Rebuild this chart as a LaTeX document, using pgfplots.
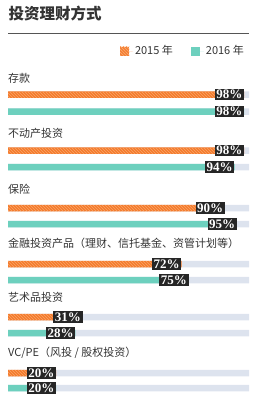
\documentclass[border=0pt]{standalone}
\usepackage{fontspec}
\setmainfont{Noto Sans CJK SC}
\newfontfamily\numfont{Liberation Serif}
\usepackage{pgfplots}
\pgfplotsset{compat=1.18}
\usetikzlibrary{patterns}
\definecolor{cOrange}{HTML}{F47B2C}
\definecolor{cStripe}{HTML}{F9A468}
\definecolor{cTeal}{HTML}{6DD0BE}
\definecolor{cBg}{HTML}{DDE3EE}
\definecolor{cBox}{HTML}{262626}
\definecolor{cText}{HTML}{333333}
\definecolor{cRule}{HTML}{555555}
\begin{document}
\begin{tikzpicture}
\begin{axis}[
  scale only axis, width=260pt, height=400pt,
  xmin=-3.32, xmax=104.56, ymin=0, ymax=400, y dir=reverse,
  hide axis, clip=false,
  legend style={at={(axis description cs:0.9577,0.8725)}, anchor=east, draw=none, fill=none,
    font=\fontsize{11}{13}\selectfont, text=cText, legend columns=2,
    /tikz/every even column/.append style={column sep=16pt}},
  legend cell align=left,
]
\path (axis cs:-3.32,0) rectangle (axis cs:104.56,400);
% background bars
\addplot[xbar, bar width=6.5pt, bar shift=0pt, fill=cBg, draw=none, forget plot]
  coordinates {(100,94.5) (100,150.5) (100,208) (100,264) (100,317) (100,373)
               (100,111.5) (100,167) (100,224) (100,280) (100,333) (100,388)};
% 2015
\addplot[xbar, bar width=6.5pt, bar shift=0pt, fill=cOrange, draw=none,
  postaction={pattern=north west lines, pattern color=cStripe},
  legend image code/.code={\fill[cOrange] (0pt,-4.5pt) rectangle (9pt,4.5pt);
     \fill[pattern=north west lines, pattern color=cStripe] (0pt,-4.5pt) rectangle (9pt,4.5pt);
     \path (0pt,0pt) -- (13pt,0pt);},
  nodes near coords={\pgfmathprintnumber[assume math mode=true]{\pgfplotspointmeta}\%},
  point meta=explicit,
  every node near coord/.append style={anchor=east, fill=cBox, text=white,
    font=\numfont\bfseries\fontsize{13}{13}\selectfont, inner xsep=1.6pt, inner ysep=1.1pt}]
  coordinates {(98,94.5) [98] (98,150.5) [98] (90,208) [90] (72,264) [72] (31,317) [31] (20,373) [20]};
\addlegendentry{2015 年}
% 2016
\addplot[xbar, bar width=6.5pt, bar shift=0pt, fill=cTeal, draw=none,
  legend image code/.code={\fill[cTeal] (0pt,-4.5pt) rectangle (9pt,4.5pt);
     \path (0pt,0pt) -- (13pt,0pt);},
  nodes near coords={\pgfmathprintnumber[assume math mode=true]{\pgfplotspointmeta}\%},
  point meta=explicit,
  every node near coord/.append style={anchor=east, fill=cBox, text=white,
    font=\numfont\bfseries\fontsize{13}{13}\selectfont, inner xsep=1.6pt, inner ysep=1.1pt}]
  coordinates {(98,111.5) [98] (94,167) [94] (95,224) [95] (75,280) [75] (28,333) [28] (20,388) [20]};
\addlegendentry{2016 年}
% title and rule
\node[anchor=west, inner sep=0pt, font=\bfseries\fontsize{15.5}{16}\selectfont, text=cText] at (axis cs:0.2,14) {投资理财方式};
\draw[cRule, line width=0.9pt] (axis cs:0,33.5) -- (axis cs:100,33.5);
% category labels
\begin{scope}[every node/.style={anchor=west, inner sep=0pt, font=\fontsize{11}{13}\selectfont, text=cText}]
\node at (axis cs:0,78) {存款};
\node at (axis cs:0,133) {不动产投资};
\node at (axis cs:0,189) {保险};
\node at (axis cs:0,243) {金融投资产品（理财、信托基金、资管计划等）};
\node at (axis cs:0,297) {艺术品投资};
\node at (axis cs:0,353) {VC/PE（风投 / 股权投资）};
\end{scope}
\end{axis}
\end{tikzpicture}
\end{document}
